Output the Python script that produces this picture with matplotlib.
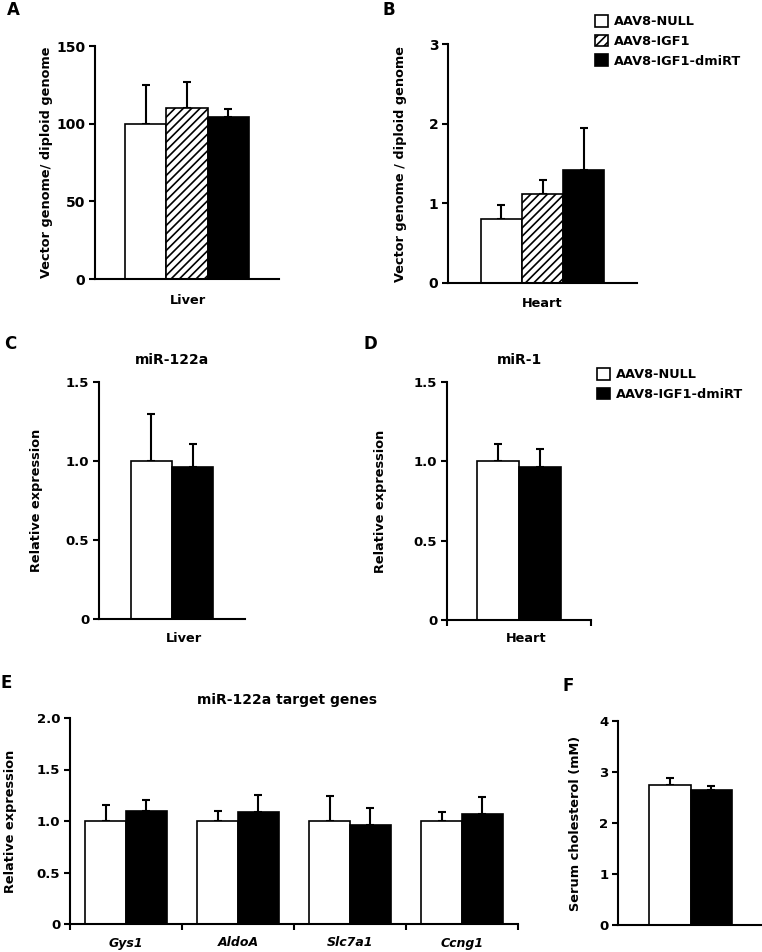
"""Six-panel AAV8 bar figure (vector genomes, miRNA and target gene expression, cholesterol)."""

import numpy as np
import matplotlib
matplotlib.use("Agg")
import matplotlib.pyplot as plt
from matplotlib.patches import Patch

# ---- data ----
groups3 = ["AAV8-NULL", "AAV8-IGF1", "AAV8-IGF1-dmiRT"]
groups2 = ["AAV8-NULL", "AAV8-IGF1-dmiRT"]

liver_vg = [100, 110, 104]
liver_vg_err = [25, 17, 5.5]
heart_vg = [0.80, 1.12, 1.42]
heart_vg_err = [0.18, 0.17, 0.53]

mir122 = [1.00, 0.96]
mir122_err = [0.30, 0.15]
mir1 = [1.00, 0.965]
mir1_err = [0.11, 0.115]

genes = ["Gys1", "AldoA", "Slc7a1", "Ccng1"]
genes_null = [1.00, 1.00, 1.00, 1.00]
genes_null_err = [0.155, 0.095, 0.245, 0.09]
genes_dmirt = [1.10, 1.085, 0.96, 1.07]
genes_dmirt_err = [0.10, 0.17, 0.165, 0.16]

chol = [2.74, 2.65]
chol_err = [0.15, 0.07]

plt.rcParams["font.family"] = ["DejaVu Sans"]
plt.rcParams["font.weight"] = "bold"
plt.rcParams["hatch.linewidth"] = 1.2

W, H = 762, 952
fig = plt.figure(figsize=(W / 100, H / 100), dpi=100)

LW = 1.5


def add_ax(x0, y_top, x1, y_bot):
    ax = fig.add_axes([x0 / W, 1 - y_bot / H, (x1 - x0) / W, (y_bot - y_top) / H])
    ax._px = (x0, y_top, x1, y_bot)
    return ax


def to_axes(ax, px, py):
    x0, y_top, x1, y_bot = ax._px
    return (px - x0) / (x1 - x0), (y_bot - py) / (y_bot - y_top)


def style(ax, ylim, yticks, ylabels, ylabel, ylabel_right, tick_size=9.5):
    for s in ["top", "right"]:
        ax.spines[s].set_visible(False)
    ax.spines["left"].set_linewidth(LW)
    ax.spines["bottom"].set_linewidth(LW)
    ax.set_ylim(ylim)
    ax.set_yticks(yticks, ylabels)
    ax.tick_params(axis="y", direction="out", length=4, width=LW,
                   labelsize=tick_size, pad=3)
    ax.set_ylabel(ylabel, fontsize=9.3, fontweight="bold")
    ax.yaxis.set_label_coords(to_axes(ax, ylabel_right, 0)[0], 0.5)


def xlabel(ax, text, cx, top):
    ax.set_xlabel(text, fontsize=9.3, fontweight="bold")
    ax.xaxis.set_label_coords(*to_axes(ax, cx, top))


def bars(ax, x, vals, errs, kind, width):
    if kind == "null":
        kw = dict(color="white", edgecolor="black")
    elif kind == "igf1":
        kw = dict(color="white", edgecolor="black", hatch="////")
    else:
        kw = dict(color="black", edgecolor="black")
    ax.bar(x, vals, width=width, linewidth=1.2, zorder=2, **kw)
    ax.errorbar(x, vals, yerr=[np.zeros(len(vals)), errs], fmt="none",
                ecolor="black", elinewidth=LW, capsize=3, capthick=LW, zorder=1)


kinds3 = ["null", "igf1", "dmirt"]
kinds2 = ["null", "dmirt"]

# ---- A: liver vector genomes ----
axA = add_ax(95, 46, 279, 279)
for i, k in enumerate(kinds3):
    bars(axA, [i - 1], [liver_vg[i]], [liver_vg_err[i]], k, 1.0)
axA.set_xlim(-2.22, 2.22)
axA.set_xticks([])
style(axA, (0, 150), [0, 50, 100, 150], ["0", "50", "100", "150"],
      "Vector genome/ diploid genome", 53, tick_size=10)
xlabel(axA, "Liver", 188, 294)

# ---- B: heart vector genomes ----
axB = add_ax(448, 44, 637, 283)
for i, k in enumerate(kinds3):
    bars(axB, [i - 1], [heart_vg[i]], [heart_vg_err[i]], k, 1.0)
axB.set_xlim(-2.29, 2.29)
axB.set_xticks([])
style(axB, (0, 3), [0, 1, 2, 3], ["0", "1", "2", "3"],
      "Vector genome / diploid genome", 407, tick_size=10)
xlabel(axB, "Heart", 542, 297)

# ---- C: miR-122a in liver ----
axC = add_ax(99, 382, 245, 619)
for i, k in enumerate(kinds2):
    bars(axC, [i - 0.5], [mir122[i]], [mir122_err[i]], k, 1.0)
axC.set_xlim(-1.76, 1.76)
axC.set_xticks([])
style(axC, (0, 1.5), [0, 0.5, 1.0, 1.5], ["0", "0.5", "1.0", "1.5"],
      "Relative expression", 43)
axC.set_title("miR-122a", fontsize=10, fontweight="bold", pad=13)
xlabel(axC, "Liver", 184, 632)

# ---- D: miR-1 in heart ----
axD = add_ax(447, 382, 591, 620)
for i, k in enumerate(kinds2):
    bars(axD, [i - 0.5], [mir1[i]], [mir1_err[i]], k, 1.0)
axD.set_xlim(-1.73, 1.73)
axD.set_xticks([-1.73, 1.73], ["", ""])
axD.tick_params(axis="x", direction="out", length=4, width=LW)
style(axD, (0, 1.5), [0, 0.5, 1.0, 1.5], ["0", "0.5", "1.0", "1.5"],
      "Relative expression", 387)
axD.set_title("miR-1", fontsize=10, fontweight="bold", pad=13)
xlabel(axD, "Heart", 526, 632)

# ---- E: miR-122a target genes ----
axE = add_ax(70, 718, 518, 924)
xg = np.arange(len(genes))
bw = 0.366
bars(axE, xg - bw / 2, genes_null, genes_null_err, "null", bw)
bars(axE, xg + bw / 2, genes_dmirt, genes_dmirt_err, "dmirt", bw)
axE.set_xlim(-0.5, len(genes) - 0.5)
axE.set_xticks(xg, genes)
for t in axE.get_xticklabels():
    t.set_fontstyle("italic")
axE.set_xticks(np.arange(-0.5, len(genes), 1.0), minor=True)
axE.tick_params(axis="x", which="major", length=0, labelsize=9, pad=9)
axE.tick_params(axis="x", which="minor", direction="out", length=4, width=LW)
style(axE, (0, 2.0), [0, 0.5, 1.0, 1.5, 2.0], ["0", "0.5", "1.0", "1.5", "2.0"],
      "Relative expression", 17)
axE.set_title("miR-122a target genes", fontsize=10, fontweight="bold", pad=10,
              x=to_axes(axE, 287, 0)[0])

# ---- F: serum cholesterol ----
axF = add_ax(618, 721, 762, 925)
for i, k in enumerate(kinds2):
    bars(axF, [i - 0.5], [chol[i]], [chol_err[i]], k, 1.0)
axF.set_xlim(-1.747, 1.72)
axF.set_xticks([])
style(axF, (0, 4), [0, 1, 2, 3, 4], ["0", "1", "2", "3", "4"],
      "Serum cholesterol (mM)", 582)

# ---- legends ----
def handle(kind, label):
    if kind == "null":
        return Patch(facecolor="white", edgecolor="black", linewidth=1.2, label=label)
    if kind == "igf1":
        return Patch(facecolor="white", edgecolor="black", linewidth=1.2, hatch="////", label=label)
    return Patch(facecolor="black", edgecolor="black", linewidth=1.2, label=label)


leg_kw = dict(loc="upper left", frameon=False, handlelength=1.0, handleheight=1.0,
              handletextpad=0.5, labelspacing=0.5, borderpad=0, borderaxespad=0,
              prop={"weight": "bold", "size": 9.3})
fig.legend(handles=[handle(k, g) for k, g in zip(kinds3, groups3)],
           bbox_to_anchor=(595 / W, 1 - 15 / H), **leg_kw)
fig.legend(handles=[handle(k, g) for k, g in zip(kinds2, groups2)],
           bbox_to_anchor=(597 / W, 1 - 368 / H), **leg_kw)

# ---- panel letters ----
for letter, (px, py) in zip("ABCDEF", [(13, 10), (389, 10), (10, 344),
                                       (370, 344), (6, 683), (568, 686)]):
    fig.text(px / W, 1 - py / H, letter, fontsize=12, fontweight="bold",
             ha="center", va="center")

fig.savefig("out.png", dpi=100)
print("saved out.png")
